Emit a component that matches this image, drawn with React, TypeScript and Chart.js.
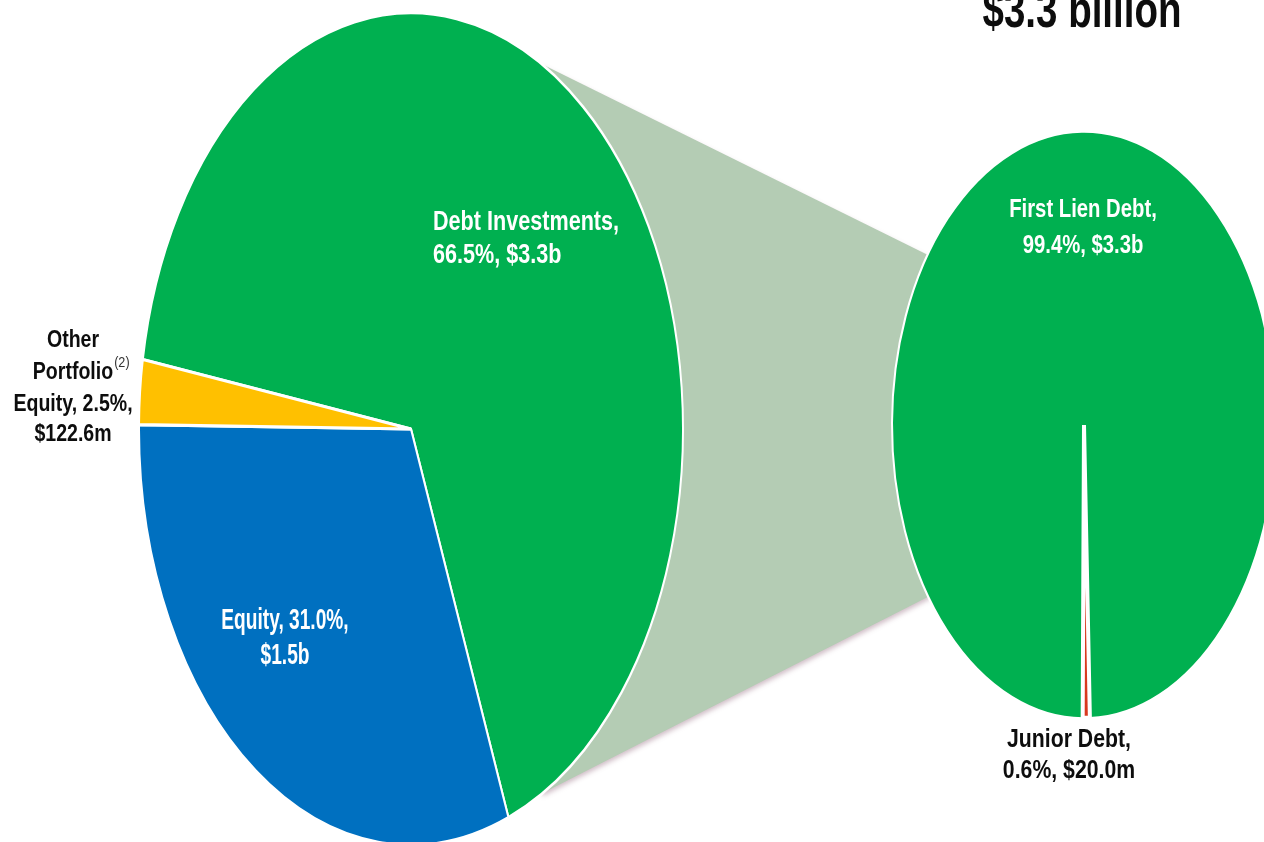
import React, { useEffect, useRef } from "react";
import { Chart, registerables } from "chart.js";

Chart.register(...registerables);

// ---- data ----
const mainCategories = ["Debt Investments", "Equity", "Other Portfolio Equity"];
const mainShares = [66.5, 31.0, 2.5];
const mainAmounts = ["$3.3b", "$1.5b", "$122.6m"];
const mainColors = ["#00B050", "#0070C0", "#FFC000"];

const debtCategories = ["First Lien Debt", "Junior Debt"];
const debtShares = [99.4, 0.6];
const debtAmounts = ["$3.3b", "$20.0m"];
const debtColors = ["#00B050", "#D9381E"];

const titleText = "$3.3 billion";
const footnoteMark = "(2)";

// ---- layout ----
const W = 1264;
const H = 842;
const RIGHT_CANVAS_W = 1400;
const L = { cx: 411, cy: 429, r: 272, k: 1.53 };
const R = { cx: 1084, cy: 425, r: 192, k: 1.53 };
const FONT = '"Liberation Sans", Arial, sans-serif';
const BLACK = "#0d0d0d";
const WHITE = "#ffffff";

function drawText(
  ctx: CanvasRenderingContext2D,
  text: string,
  x: number,
  y: number,
  size: number,
  sx: number,
  align: CanvasTextAlign,
  color: string,
  weight = "bold"
): number {
  ctx.save();
  ctx.translate(x, y);
  ctx.scale(sx, 1);
  ctx.font = `${weight} ${size}px ${FONT}`;
  ctx.fillStyle = color;
  ctx.textAlign = align;
  ctx.textBaseline = "alphabetic";
  ctx.fillText(text, 0, 0);
  const w = ctx.measureText(text).width * sx;
  ctx.restore();
  return w;
}

function ellipsePoint(p: { cx: number; cy: number; r: number; k: number }, deg: number) {
  const a = (deg * Math.PI) / 180;
  return { x: p.cx + p.r * Math.sin(a), y: p.cy - p.r * p.k * Math.cos(a) };
}

function makeEllipsePlugin(
  id: string,
  k: number,
  before: ((ctx: CanvasRenderingContext2D, chart: any) => void) | null,
  after: ((ctx: CanvasRenderingContext2D, chart: any) => void) | null
) {
  return {
    id,
    beforeDatasetsDraw(chart: any) {
      const ctx = chart.ctx as CanvasRenderingContext2D;
      if (before) before(ctx, chart);
      const arc = chart.getDatasetMeta(0).data[0];
      ctx.save();
      ctx.translate(arc.x, arc.y);
      ctx.scale(1, k);
      ctx.translate(-arc.x, -arc.y);
    },
    afterDatasetsDraw(chart: any) {
      const ctx = chart.ctx as CanvasRenderingContext2D;
      ctx.restore();
      if (after) after(ctx, chart);
    },
  };
}

function drawConnector(ctx: CanvasRenderingContext2D) {
  const pts = [
    { x: L.cx, y: L.cy },
    ellipsePoint(L, 28.7),
    ellipsePoint(R, 305.4),
    { x: R.cx, y: R.cy },
    ellipsePoint(R, 234.2),
    ellipsePoint(L, 151.0),
  ];
  ctx.save();
  ctx.beginPath();
  ctx.moveTo(pts[0].x, pts[0].y);
  for (let i = 1; i < pts.length; i++) ctx.lineTo(pts[i].x, pts[i].y);
  ctx.closePath();
  ctx.shadowColor = "rgba(150,110,130,0.45)";
  ctx.shadowBlur = 5;
  ctx.shadowOffsetY = 3;
  ctx.fillStyle = "#B4CCB4";
  ctx.fill();
  ctx.restore();
}

function drawMainLabels(ctx: CanvasRenderingContext2D, chart: any) {
  const arc = chart.getDatasetMeta(0).data[0];
  const cx = arc.x;
  const cy = arc.y;
  const pct = (v: number) => `${v.toFixed(1)}%`;

  // Debt Investments
  drawText(ctx, `${mainCategories[0]},`, cx + 22, cy - 199, 27, 0.8, "left", WHITE);
  drawText(ctx, `${pct(mainShares[0])}, ${mainAmounts[0]}`, cx + 22, cy - 166, 27, 0.8, "left", WHITE);

  // Equity
  drawText(ctx, `${mainCategories[1]}, ${pct(mainShares[1])},`, cx - 126, cy + 200, 29, 0.66, "center", WHITE);
  drawText(ctx, `${mainAmounts[1]}`, cx - 126, cy + 235, 29, 0.66, "center", WHITE);

  // Other Portfolio Equity
  const words = mainCategories[2].split(" ");
  const ox = cx - 338;
  drawText(ctx, words[0], ox, cy - 82, 23, 0.85, "center", BLACK);
  const pw = drawText(ctx, words[1], ox, cy - 50, 23, 0.85, "center", BLACK);
  drawText(ctx, footnoteMark, ox + pw / 2 + 1, cy - 62, 14, 0.9, "left", "#333333", "normal");
  drawText(ctx, `${words[2]}, ${pct(mainShares[2])},`, ox, cy - 18, 23, 0.85, "center", BLACK);
  drawText(ctx, mainAmounts[2], ox, cy + 12, 23, 0.85, "center", BLACK);
}

function drawDebtLabels(ctx: CanvasRenderingContext2D, chart: any) {
  const arc = chart.getDatasetMeta(0).data[0];
  const cx = arc.x;
  const cy = arc.y;
  const pct = (v: number) => `${v.toFixed(1)}%`;

  drawText(ctx, `${debtCategories[0]},`, cx - 1, cy - 208, 26, 0.78, "center", WHITE);
  drawText(ctx, `${pct(debtShares[0])}, ${debtAmounts[0]}`, cx - 1, cy - 172, 26, 0.78, "center", WHITE);

  drawText(ctx, `${debtCategories[1]},`, cx - 15, cy + 322, 25, 0.85, "center", BLACK);
  drawText(ctx, `${pct(debtShares[1])}, ${debtAmounts[1]}`, cx - 15, cy + 353, 25, 0.85, "center", BLACK);

  drawText(ctx, titleText, cx - 2, 27, 52, 0.74, "center", BLACK);
}

export default function App() {
  const leftRef = useRef<HTMLCanvasElement | null>(null);
  const rightRef = useRef<HTMLCanvasElement | null>(null);

  useEffect(() => {
    if (!leftRef.current || !rightRef.current) return;

    const left = new Chart(leftRef.current, {
      type: "pie",
      data: {
        labels: mainCategories,
        datasets: [
          {
            data: mainShares,
            backgroundColor: mainColors,
            borderColor: "#ffffff",
            borderWidth: 2,
            clip: false,
          } as any,
        ],
      },
      options: {
        responsive: false,
        maintainAspectRatio: false,
        animation: false,
        events: [],
        rotation: -80.4,
        radius: L.r,
        layout: {
          padding: { left: L.cx - L.r, right: W - L.cx - L.r, top: L.cy - L.r, bottom: H - L.cy - L.r },
        },
        plugins: { legend: { display: false }, tooltip: { enabled: false } },
      } as any,
      plugins: [makeEllipsePlugin("leftEllipse", L.k, drawConnector, drawMainLabels)],
    });

    const right = new Chart(rightRef.current, {
      type: "pie",
      data: {
        labels: debtCategories,
        datasets: [
          {
            data: debtShares,
            backgroundColor: debtColors,
            borderColor: "#ffffff",
            borderWidth: [2, 4],
            clip: false,
          } as any,
        ],
      },
      options: {
        responsive: false,
        maintainAspectRatio: false,
        animation: false,
        events: [],
        rotation: 180.4,
        radius: R.r,
        layout: {
          padding: { left: R.cx - R.r, right: RIGHT_CANVAS_W - R.cx - R.r, top: R.cy - R.r, bottom: H - R.cy - R.r },
        },
        plugins: { legend: { display: false }, tooltip: { enabled: false } },
      } as any,
      plugins: [makeEllipsePlugin("rightEllipse", R.k, null, drawDebtLabels)],
    });

    return () => {
      left.destroy();
      right.destroy();
    };
  }, []);

  return (
    <div
      style={{
        position: "absolute",
        left: 0,
        top: 0,
        width: W,
        height: H,
        overflow: "hidden",
        background: "#ffffff",
      }}
    >
      <canvas ref={leftRef} width={W} height={H} style={{ position: "absolute", left: 0, top: 0 }} />
      <canvas
        ref={rightRef}
        width={RIGHT_CANVAS_W}
        height={H}
        style={{ position: "absolute", left: 0, top: 0 }}
      />
    </div>
  );
}
